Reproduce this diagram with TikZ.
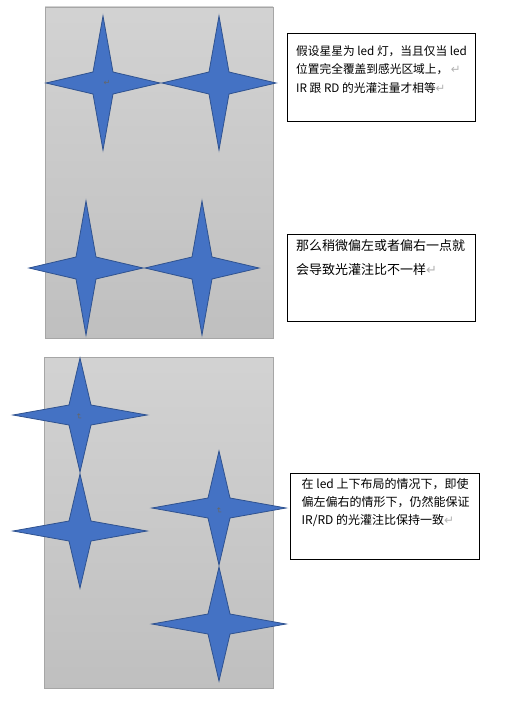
\documentclass[tikz,border=0pt]{standalone}
\usepackage{fontspec}
\usepackage{xcolor}
\usepackage{tikz}
\setmainfont{Noto Sans CJK SC}
\newfontfamily\arrowfont{DejaVu Sans}
\definecolor{ledblue}{HTML}{4472C4}
\definecolor{ledline}{HTML}{2F528F}
\definecolor{panelgray}{HTML}{A6A6A6}
\newcommand{\retmark}{{\arrowfont\color{gray!60}↵}}

\begin{document}
\begin{tikzpicture}[
    x=1pt, y=-1pt,
    panel/.style={draw=panelgray, line width=0.8pt, top color=gray!35, bottom color=gray!50},
    ledstar/.pic={
        \filldraw[fill=ledblue, draw=ledline, line width=0.8pt]
            (-57,0) -- (-10,-11) -- (0,-67) -- (10,-11) -- (57,0)
            -- (10,11) -- (0,67) -- (-10,11) -- cycle;
    },
    note/.style={draw, line width=0.8pt, fill=white, anchor=north west, inner sep=0pt},
    notetext/.style={anchor=north west, align=left, inner sep=0pt},
    retglyph/.style={font=\arrowfont\fontsize{8}{8}\selectfont, text=black!60, inner sep=0pt},
]
    \useasboundingbox (0,0) rectangle (509,706);

    % side by side
    \shade[panel] (45,7) rectangle (273,338);
    \pic at (103,83) {ledstar};
    \pic at (219,83) {ledstar};
    \pic at (86,268) {ledstar};
    \pic at (202,268) {ledstar};
    \node[retglyph] (mark1) at (107,83) {↵};

    % one above the other
    \shade[panel] (44,357) rectangle (273,688);
    \pic[rotate=90] at (80,415) {ledstar};
    \pic[rotate=90] at (80,531) {ledstar};
    \pic[rotate=90] at (219,508) {ledstar};
    \pic[rotate=90] at (219,624) {ledstar};
    \node[retglyph, rotate=-90] (mark5) at (79,417) {↵};
    \node[retglyph, rotate=-90] (mark7) at (219,511) {↵};

    \node[note, minimum width=188pt, minimum height=88pt] (note1) at (286.5,33) {};
    \node[notetext, font=\fontsize{11.7pt}{18.6pt}\selectfont] (text1) at ([shift={(9.5,12)}]note1.north west)
        {假设星星为 led 灯，当且仅当 led\\位置完全覆盖到感光区域上，\ \retmark\\IR 跟 RD 的光灌注量才相等\retmark};

    \node[note, minimum width=188pt, minimum height=87pt] (note2) at (286.5,234) {};
    \node[notetext, font=\fontsize{13pt}{24pt}\selectfont] (text2) at ([shift={(9.5,5.5)}]note2.north west)
        {那么稍微偏左或者偏右一点就\\会导致光灌注比不一样\retmark};

    \node[note, minimum width=189pt, minimum height=86pt] (note3) at (290,473) {};
    \node[notetext, font=\fontsize{12pt}{18.3pt}\selectfont] (text3) at ([shift={(11.5,5)}]note3.north west)
        {在 led 上下布局的情况下，即使\\偏左偏右的情形下，仍然能保证\\IR/RD 的光灌注比保持一致\retmark};
\end{tikzpicture}
\end{document}
